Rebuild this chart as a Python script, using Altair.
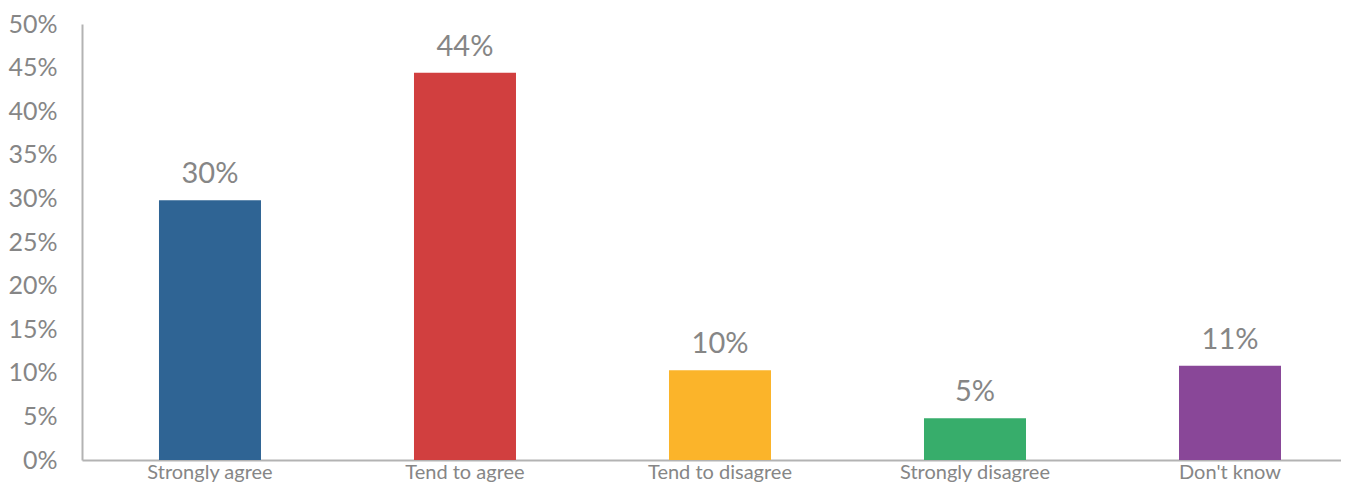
import altair as alt
import pandas as pd

categories = ["Strongly agree", "Tend to agree", "Tend to disagree", "Strongly disagree", "Don't know"]
values = [0.298, 0.444, 0.103, 0.048, 0.108]
labels = ["30%", "44%", "10%", "5%", "11%"]
colors = ["#2f6494", "#d13f3f", "#fbb42a", "#37ad6b", "#894798"]

df = pd.DataFrame({"cat": categories, "val": values, "lab": labels})

FONT = "Lato"
GRAY = "#868686"

x = alt.X("cat:N", sort=categories, title=None,
          scale=alt.Scale(paddingInner=0.6, paddingOuter=0.2686, align=0.562),
          axis=alt.Axis(labelAngle=0, ticks=False, domainColor="#b3b3b3", domainWidth=2,
                        labelFont=FONT, labelFontSize=20, labelColor=GRAY, labelPadding=2))
y = alt.Y("val:Q", title=None,
          scale=alt.Scale(domain=[0, 0.5]),
          axis=alt.Axis(format=".0%", values=[i / 100 for i in range(0, 51, 5)], grid=False, ticks=False,
                        domainColor="#b3b3b3", domainWidth=2,
                        labelFont=FONT, labelFontSize=25, labelColor=GRAY, labelPadding=25))

bars = alt.Chart(df).mark_bar().encode(
    x=x, y=y,
    color=alt.Color("cat:N", sort=categories, scale=alt.Scale(domain=categories, range=colors), legend=None),
)
text = alt.Chart(df).mark_text(font=FONT, fontSize=29, color=GRAY, baseline="alphabetic", dy=-17).encode(
    x=alt.X("cat:N", sort=categories), y="val:Q", text="lab:N"
)

chart = (bars + text).properties(
    width=1259, height=436,
    autosize=alt.AutoSizeParams(type="none"),
    padding={"left": 74, "top": 16, "right": 0, "bottom": 25},
).configure_view(stroke=None)

chart.save("out.html", embed_options={"renderer": "svg", "actions": False})
